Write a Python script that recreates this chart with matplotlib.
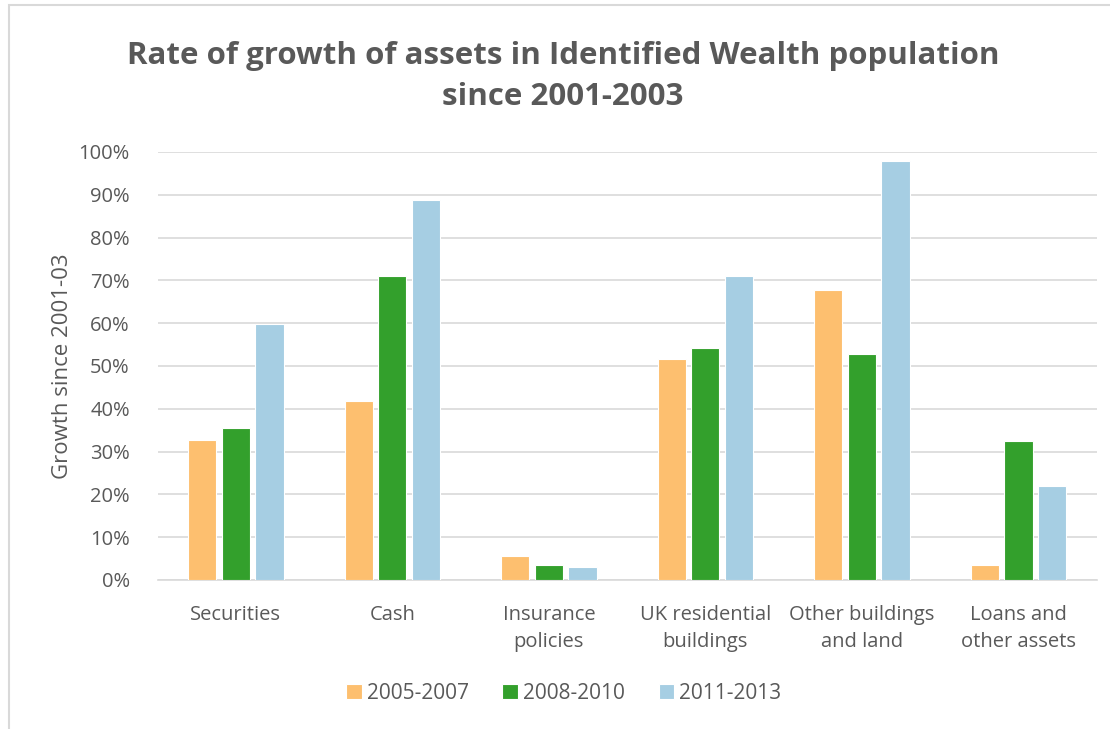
import matplotlib.pyplot as plt
import numpy as np
from matplotlib.patches import Rectangle

plt.rcParams['font.family'] = ['Open Sans', 'DejaVu Sans']

# data
categories = ['Securities', 'Cash', 'Insurance\npolicies', 'UK residential\nbuildings',
              'Other buildings\nand land', 'Loans and\nother assets']
y1 = [0.326, 0.418, 0.057, 0.517, 0.678, 0.034]   # 2005-2007
y2 = [0.356, 0.711, 0.034, 0.541, 0.529, 0.324]   # 2008-2010
y3 = [0.599, 0.887, 0.031, 0.711, 0.980, 0.219]   # 2011-2013
series = ['2005-2007', '2008-2010', '2011-2013']

grey = '#595959'
colors = ['#FDBF6F', '#33A02C', '#A6CEE3']

fig = plt.figure(figsize=(11.1, 7.29), dpi=100)
ax = fig.add_axes([0.142, 0.2044, 0.846, 0.5871])

x = np.arange(len(categories))
bw = 0.18
off = 0.215
for i, (vals, c, lab) in enumerate(zip([y1, y2, y3], colors, series)):
    ax.bar(x + (i - 1) * off, vals, width=bw, color=c, edgecolor='white', linewidth=0.8, label=lab, zorder=3)

ax.set_xlim(-0.5, len(categories) - 0.5)
ax.set_ylim(0, 1)
ax.set_yticks(np.arange(0, 1.01, 0.1))
ax.set_yticklabels([f'{int(round(v * 100))}%' for v in np.arange(0, 1.01, 0.1)])
ax.yaxis.grid(True, color='#D9D9D9', linewidth=1.2, zorder=0)
for s in ['top', 'right', 'left']:
    ax.spines[s].set_visible(False)
ax.spines['bottom'].set_color('#D9D9D9')
ax.spines['bottom'].set_linewidth(1.2)
ax.tick_params(axis='y', length=0, labelsize=14.5, labelcolor=grey, pad=20)
ax.tick_params(axis='x', length=0, labelsize=14.5, labelcolor=grey, pad=18)
ax.set_xticks(x)
ax.set_xticklabels(categories, linespacing=1.45)
ax.set_ylabel('Growth since 2001-03', fontsize=16, color=grey, labelpad=4)

fig.text(0.507, 0.895, 'Rate of growth of assets in Identified Wealth population\nsince 2001-2003',
         ha='center', va='center', fontsize=22.5, fontweight='bold', color=grey, linespacing=1.45)

leg = fig.legend(loc='center', bbox_to_anchor=(0.508, 0.049), ncol=3, frameon=False,
                 fontsize=15, handlelength=0.75, handleheight=0.75, handletextpad=0.25,
                 columnspacing=1.6)
for t in leg.get_texts():
    t.set_color(grey)

# outer chart border (left and top edges visible)
fig.patches.append(Rectangle((0.008, -0.1), 1.2, 1.093, transform=fig.transFigure,
                             fill=False, edgecolor='#D9D9D9', linewidth=1.5))

fig.savefig('out.png', dpi=100)
